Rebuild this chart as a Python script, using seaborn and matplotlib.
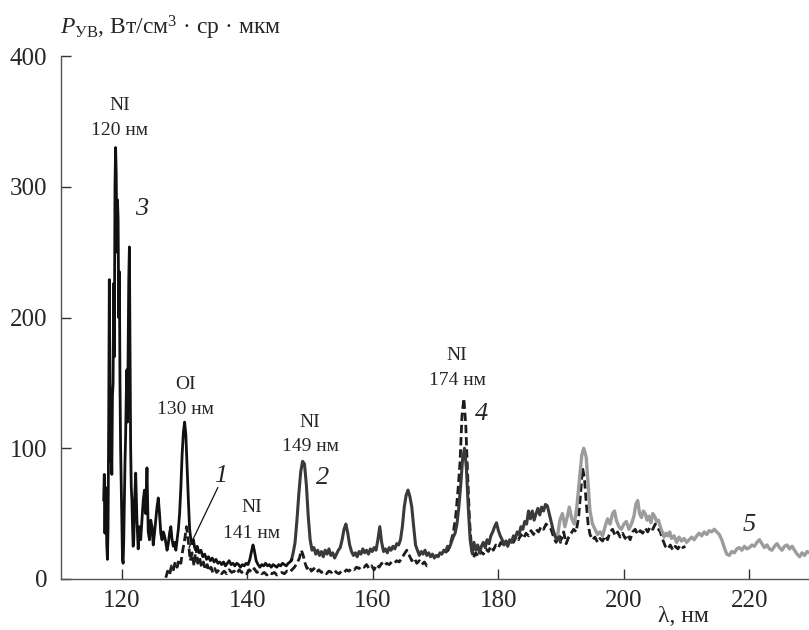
import matplotlib
matplotlib.use("Agg")
import matplotlib.pyplot as plt
import seaborn as sns

# curve 3: black solid, 117-147 nm
lam3 = [117.1, 117.2, 117.3, 117.4, 117.5, 117.6, 117.7, 117.8, 117.9, 118.0, 118.1, 118.2, 118.3, 118.4,
        118.5, 118.6, 118.7, 118.8, 118.9, 119.0, 119.1, 119.2, 119.3, 119.4, 119.5, 119.6, 119.7, 119.8,
        119.9, 120.0, 120.1, 120.2, 120.3, 120.4, 120.5, 120.6, 120.7, 120.8, 120.9, 121.0, 121.1, 121.2,
        121.3, 121.4, 121.5, 121.6, 121.7, 121.8, 121.9, 122.0, 122.2, 122.4, 122.6, 122.8, 123.0, 123.2,
        123.4, 123.6, 123.8, 124.0, 124.2, 124.4, 124.6, 124.8, 125.0, 125.2, 125.4, 125.6, 125.8, 126.0,
        126.2, 126.4, 126.6, 126.8, 127.0, 127.2, 127.4, 127.6, 127.8, 128.0, 128.2, 128.4, 128.6, 128.8,
        129.0, 129.2, 129.4, 129.6, 129.8, 130.0, 130.2, 130.4, 130.6, 130.8, 131.0, 131.2, 131.4, 131.6,
        131.8, 132.0, 132.3, 132.6, 132.9, 133.2, 133.5, 133.8, 134.1, 134.4, 134.7, 135.0, 135.3, 135.6,
        135.9, 136.2, 136.5, 136.8, 137.1, 137.4, 137.7, 138.0, 138.3, 138.6, 138.9, 139.2, 139.5, 139.8,
        140.1, 140.4, 140.7, 140.9, 141.1, 141.4, 141.7, 142.0, 142.3, 142.6, 142.9, 143.2, 143.5, 143.8,
        144.1, 144.4, 144.7, 145.0, 145.3, 145.6, 145.9, 146.2, 146.5, 146.8, 147.1]
p3 = [60, 80, 35, 70, 50, 25, 15, 40, 120, 229, 150, 90, 100, 80,
      140, 150, 226, 170, 300, 330, 310, 250, 290, 276, 200, 235, 150, 100,
      70, 40, 15, 12, 30, 60, 90, 110, 140, 160, 120, 180, 230, 254,
      180, 100, 70, 60, 40, 25, 30, 55, 81, 45, 23, 40, 30, 45,
      60, 68, 50, 85, 36, 30, 45, 40, 26, 35, 45, 55, 62, 50,
      35, 30, 36, 33, 28, 22, 27, 35, 40, 30, 25, 28, 22, 30,
      38, 50, 70, 95, 112, 120, 110, 85, 60, 38, 30, 27, 30, 24,
      22, 25, 20, 22, 17, 19, 15, 17, 14, 16, 13, 15, 12, 13,
      11, 13, 10, 12, 14, 11, 12, 10, 12, 11, 9, 11, 10, 12,
      11, 15, 22, 26, 22, 14, 11, 9, 11, 10, 12, 10, 11, 9,
      11, 10, 9, 11, 10, 12, 11, 10, 12, 13, 15]

# curve 1: lower dashed, 127-169 nm
lam1 = [127.0, 127.3, 127.6, 127.9, 128.2, 128.5, 128.8, 129.1, 129.4, 129.7, 130.0, 130.3, 130.6, 130.9,
        131.2, 131.5, 131.8, 132.1, 132.4, 132.7, 133.0, 133.3, 133.6, 133.9, 134.2, 134.5, 134.8, 135.1,
        135.5, 135.9, 136.3, 136.7, 137.1, 137.5, 137.9, 138.3, 138.7, 139.1, 139.5, 139.9, 140.3, 140.7,
        141.1, 141.5, 141.9, 142.3, 142.7, 143.1, 143.5, 143.9, 144.3, 144.7, 145.1, 145.5, 145.9, 146.3,
        146.7, 147.1, 147.5, 147.9, 148.3, 148.6, 148.9, 149.2, 149.5, 149.8, 150.2, 150.6, 151.0, 151.4,
        151.8, 152.2, 152.6, 153.0, 153.4, 153.8, 154.2, 154.6, 155.0, 155.4, 155.8, 156.2, 156.6, 157.0,
        157.4, 157.8, 158.2, 158.6, 159.0, 159.4, 159.8, 160.2, 160.6, 161.0, 161.4, 161.8, 162.2, 162.6,
        163.0, 163.4, 163.8, 164.2, 164.6, 165.0, 165.4, 165.8, 166.2, 166.6, 167.0, 167.4, 167.8, 168.2,
        168.6, 169.0]
p1 = [1, 6, 3, 10, 7, 13, 9, 15, 12, 22, 30, 40, 28, 14,
      20, 10, 24, 12, 16, 9, 13, 7, 11, 6, 9, 5, 8, 5,
      7, 4, 6, 4, 7, 5, 6, 4, 7, 5, 6, 4, 7, 5,
      8, 5, 6, 4, 5, 3, 5, 4, 5, 3, 4, 5, 4, 6,
      5, 7, 9, 12, 16, 22, 18, 12, 8, 10, 6, 8, 5, 7,
      5, 6, 4, 6, 5, 7, 5, 4, 6, 5, 7, 6, 8, 7,
      9, 8, 10, 9, 11, 8, 10, 7, 11, 9, 12, 10, 12, 11,
      13, 12, 14, 13, 16, 19, 22, 18, 14, 16, 12, 14, 11, 13,
      10, 11]

# curve 2: dark grey solid, 147-190 nm
lam2 = [147.0, 147.3, 147.6, 147.9, 148.2, 148.5, 148.8, 149.1, 149.4, 149.7, 150.0, 150.3, 150.6, 150.9,
        151.2, 151.5, 151.8, 152.1, 152.4, 152.7, 153.0, 153.3, 153.6, 153.9, 154.2, 154.5, 154.8, 155.1,
        155.4, 155.7, 156.0, 156.3, 156.6, 156.9, 157.2, 157.5, 157.8, 158.1, 158.4, 158.7, 159.0, 159.3,
        159.6, 159.9, 160.2, 160.5, 160.8, 161.1, 161.4, 161.7, 162.0, 162.3, 162.6, 162.9, 163.2, 163.5,
        163.8, 164.1, 164.4, 164.7, 165.0, 165.3, 165.6, 165.9, 166.2, 166.5, 166.8, 167.1, 167.4, 167.7,
        168.0, 168.3, 168.6, 168.9, 169.2, 169.5, 169.8, 170.1, 170.4, 170.7, 171.0, 171.3, 171.6, 171.9,
        172.2, 172.5, 172.8, 173.1, 173.4, 173.7, 174.0, 174.3, 174.6, 174.9, 175.2, 175.5, 175.8, 176.1,
        176.4, 176.7, 177.0, 177.3, 177.6, 177.9, 178.2, 178.5, 178.8, 179.1, 179.4, 179.7, 180.0, 180.3,
        180.6, 180.9, 181.2, 181.5, 181.8, 182.1, 182.4, 182.7, 183.0, 183.3, 183.6, 183.9, 184.2, 184.5,
        184.8, 185.1, 185.4, 185.7, 186.0, 186.3, 186.6, 186.9, 187.2, 187.5, 187.8, 188.1, 188.4, 188.7,
        189.0, 189.3, 189.6, 189.9]
p2 = [14, 20, 28, 45, 65, 82, 90, 88, 72, 48, 30, 22, 24, 19,
      22, 18, 21, 17, 22, 19, 23, 18, 20, 16, 19, 22, 24, 30,
      38, 42, 35, 26, 21, 18, 20, 17, 21, 19, 23, 20, 22, 19,
      23, 21, 24, 22, 30, 40, 28, 21, 23, 20, 24, 22, 25, 23,
      27, 26, 30, 40, 55, 64, 68, 63, 55, 40, 26, 22, 18, 21,
      19, 22, 18, 20, 17, 19, 16, 18, 17, 20, 19, 22, 21, 25,
      24, 28, 32, 35, 42, 55, 72, 92, 100, 85, 55, 30, 20, 28,
      22, 26, 20, 25, 28, 24, 30, 27, 33, 36, 40, 43, 37, 33,
      30, 26, 29, 25, 30, 28, 33, 31, 36, 34, 40, 38, 44, 42,
      52, 46, 52, 45, 50, 54, 49, 55, 52, 57, 56, 50, 44, 38,
      33, 30, 32, 28]

# curve 4: dashed, 171-210 nm
lam4 = [171.5, 172.0, 172.4, 172.8, 173.2, 173.6, 173.9, 174.2, 174.5, 174.8, 175.1, 175.4, 175.7, 176.0,
        176.4, 176.8, 177.2, 177.6, 178.0, 178.4, 178.8, 179.2, 179.6, 180.0, 180.4, 180.8, 181.2, 181.6,
        182.0, 182.4, 182.8, 183.2, 183.6, 184.0, 184.4, 184.8, 185.2, 185.6, 186.0, 186.4, 186.8, 187.2,
        187.6, 188.0, 188.4, 188.8, 189.2, 189.6, 190.0, 190.4, 190.8, 191.2, 191.6, 192.0, 192.4, 192.8,
        193.1, 193.4, 193.7, 194.0, 194.3, 194.6, 195.0, 195.4, 195.8, 196.2, 196.6, 197.0, 197.4, 197.8,
        198.2, 198.6, 199.0, 199.4, 199.8, 200.2, 200.6, 201.0, 201.4, 201.8, 202.2, 202.6, 203.0, 203.4,
        203.8, 204.2, 204.6, 205.0, 205.4, 205.8, 206.2, 206.6, 207.0, 207.4, 207.8, 208.2, 208.6, 209.0,
        209.4, 209.8]
p4 = [20, 22, 28, 35, 48, 70, 90, 125, 138, 118, 80, 45, 25, 16,
      20, 17, 21, 19, 23, 21, 25, 22, 26, 24, 28, 26, 29, 27,
      31, 28, 32, 30, 34, 31, 35, 33, 37, 34, 38, 36, 40, 38,
      42, 40, 38, 32, 28, 34, 30, 36, 27, 32, 35, 38, 36, 48,
      65, 85, 78, 58, 42, 34, 30, 32, 28, 31, 29, 33, 30, 36,
      38, 33, 36, 32, 35, 31, 34, 30, 36, 38, 34, 37, 35, 39,
      36, 40, 38, 42, 39, 36, 30, 25, 23, 26, 22, 25, 23, 26,
      24, 25]

# curve 5: light grey solid, 189-230 nm
lam5 = [189.4, 189.8, 190.2, 190.6, 191.0, 191.3, 191.7, 192.1, 192.5, 192.9, 193.3, 193.6, 194.0, 194.3,
        194.6, 195.0, 195.4, 195.8, 196.2, 196.6, 197.0, 197.4, 197.8, 198.2, 198.5, 198.8, 199.2, 199.6,
        200.0, 200.4, 200.8, 201.2, 201.6, 201.9, 202.2, 202.5, 202.8, 203.1, 203.4, 203.7, 204.0, 204.3,
        204.6, 204.9, 205.2, 205.5, 205.8, 206.1, 206.4, 206.7, 207.0, 207.3, 207.6, 208.0, 208.4, 208.8,
        209.2, 209.6, 210.0, 210.4, 210.8, 211.2, 211.6, 212.0, 212.4, 212.8, 213.2, 213.6, 214.0, 214.4,
        214.8, 215.2, 215.6, 216.0, 216.4, 216.8, 217.2, 217.6, 218.0, 218.4, 218.8, 219.2, 219.6, 220.0,
        220.4, 220.8, 221.2, 221.6, 222.0, 222.4, 222.8, 223.2, 223.6, 224.0, 224.4, 224.8, 225.2, 225.6,
        226.0, 226.4, 226.8, 227.2, 227.6, 228.0, 228.4, 228.8, 229.2, 229.6]
p5 = [32, 45, 50, 40, 48, 55, 46, 42, 55, 75, 95, 100, 93, 72,
      52, 42, 38, 34, 36, 33, 40, 46, 42, 50, 52, 45, 40, 38,
      42, 44, 38, 42, 48, 57, 60, 50, 47, 52, 50, 45, 48, 43,
      50, 48, 44, 45, 40, 36, 32, 35, 33, 36, 31, 33, 28, 32,
      29, 31, 28, 30, 32, 30, 33, 35, 33, 36, 34, 37, 36, 38,
      36, 34, 30, 24, 19, 18, 21, 20, 23, 24, 22, 25, 23, 24,
      26, 25, 28, 30, 27, 24, 26, 23, 22, 25, 27, 24, 22, 25,
      26, 23, 25, 22, 19, 17, 20, 18, 21, 20]

sns.set_style("ticks")
plt.rcParams['font.family'] = ['Liberation Serif', 'DejaVu Serif']
plt.rcParams['mathtext.fontset'] = 'custom'
plt.rcParams['mathtext.rm'] = 'Liberation Serif'
plt.rcParams['mathtext.it'] = 'Liberation Serif:italic'

fig = plt.figure(figsize=(8.09, 6.30), dpi=100)
ax = fig.add_axes([0.0754, 0.081, 0.9246, 0.830])

dash = (0, (3, 1.4))
sns.lineplot(x=lam4, y=p4, ax=ax, color='#1c1c1c', lw=2.0, linestyle=dash, estimator=None, sort=False)
sns.lineplot(x=lam5, y=p5, ax=ax, color='#9c9c9c', lw=2.4, estimator=None, sort=False)
sns.lineplot(x=lam1, y=p1, ax=ax, color='#1c1c1c', lw=2.0, linestyle=dash, estimator=None, sort=False)
sns.lineplot(x=lam2, y=p2, ax=ax, color='#3a3a3a', lw=2.2, estimator=None, sort=False)
sns.lineplot(x=lam3, y=p3, ax=ax, color='#111111', lw=2.0, estimator=None, sort=False)

ax.set_xlim(110.3, 229.5)
ax.set_ylim(0, 400)
ax.set_xticks([120, 140, 160, 180, 200, 220])
ax.set_yticks([0, 100, 200, 300, 400])
ax.tick_params(direction='in', length=7, width=1, color='#333333', labelsize=18)
ax.tick_params(axis='x', pad=8)
ax.tick_params(axis='y', pad=10)
for s in ['top', 'right']:
    ax.spines[s].set_visible(False)
for s in ['left', 'bottom']:
    ax.spines[s].set_color('#555555')
    ax.spines[s].set_linewidth(1.0)

# line labels
lab = dict(fontsize=14, ha='center', va='center')
ax.text(119.7, 362, 'NI', **lab)
ax.text(119.7, 343, '120 нм', **lab)
ax.text(130.2, 149, 'OI', **lab)
ax.text(130.2, 130, '130 нм', **lab)
ax.text(140.7, 55, 'NI', **lab)
ax.text(140.6, 35, '141 нм', **lab)
ax.text(150.0, 120, 'NI', **lab)
ax.text(150.0, 101, '149 нм', **lab)
ax.text(173.4, 171, 'NI', **lab)
ax.text(173.4, 152, '174 нм', **lab)

num = dict(fontsize=19, ha='center', va='center', style='italic')
ax.text(123.2, 283, '3', **num)
ax.text(135.8, 79, '1', **num)
ax.text(152.0, 77, '2', **num)
ax.text(177.3, 126, '4', **num)
ax.text(220.0, 41, '5', **num)
ax.plot([135.3, 130.7], [70, 24], color='#111111', lw=0.9)

ax.text(-0.002, 1.054, r'$P_{\mathrm{УВ}}$, Вт/см$^3$ · ср · мкм', transform=ax.transAxes,
        fontsize=17, ha='left', va='center')
ax.text(209.5, -29, 'λ, нм', fontsize=17, ha='center', va='center', clip_on=False)

fig.savefig('out.png', dpi=100)
